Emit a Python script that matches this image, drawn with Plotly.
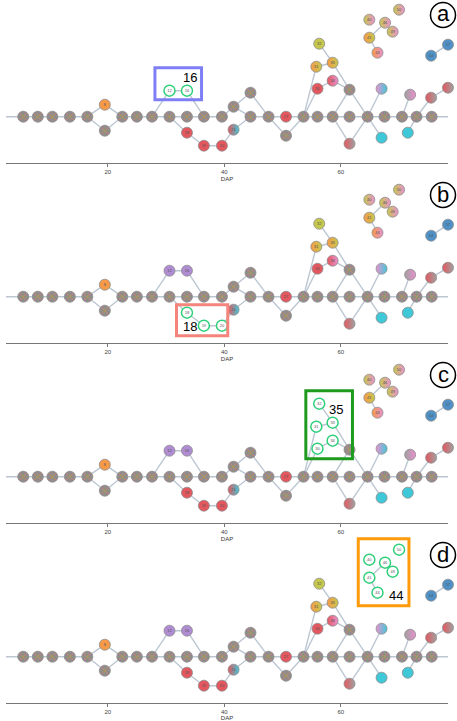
import plotly.graph_objects as go

W, H = 457, 721

# graph layout: position on the DAP axis, vertical offset from the trunk, colour, second colour, label
node_dap = [2.5, 5.5, 8.0, 10.5, 13.5, 16.5, 19.5, 19.5, 22.5, 25.0,
            27.6, 30.6, 30.6, 33.6, 33.6, 33.6, 36.5, 36.5, 39.6, 39.6,
            41.6, 41.6, 44.5, 44.5, 47.6, 50.6, 50.6, 53.6, 56.0, 56.0,
            55.8, 56.3, 58.6, 58.6, 58.6, 61.5, 61.5, 61.5, 64.6, 67.0,
            67.0, 67.5, 70.5, 71.9, 71.5, 73.0, 75.5, 75.6, 78.4, 78.6,
            75.5, 78.4, 64.9, 67.6, 68.9, 70.0, 64.9, 66.3]
node_y = [0, 0, 0, 0, 0, 0, 12, -14, 0, 0,
          0, 26, 0, 26, 0, -16, 0, -29, 0, -29,
          10, -13, 24, 0, 0, 0, -19, 0, 0, 28,
          50, 73, 54, 36, 0, 27, 0, -27, 0, 28,
          -21, 0, 0, 22, -16, 0, 19, 0, 29, 0,
          61, 72, 97, 94, 85, 107, 79, 64]
node_col = ['mix', 'mix', 'mix', 'mix', 'mix', 'mix', 'orange', 'mix', 'mix', 'mix',
            'mix', 'purple', 'mix', 'purple', 'mix', 'red', 'mix', 'red', 'mix', 'red',
            'mix', 'red', 'mix', 'mix', 'mix', 'red', 'mix', 'mix', 'mix', 'red',
            'orange', 'olive', 'orange', 'red', 'mix', 'mix', 'mix', 'red', 'mix', 'pink',
            'cyan', 'mix', 'mix', 'gray', 'cyan', 'mix', 'red', 'mix', 'red', 'mix',
            'blue', 'blue', 'olive', 'olive', 'olive', 'olive', 'orange', 'orange']
node_col2 = ['', '', '', '', '', '', '', '', '', '',
             '', '', '', '', '', '', '', '', '', '',
             '', 'cyan', '', '', '', '', '', '', '', '',
             'olive', '', 'olive', 'pink', '', '', '', 'gray', '', 'cyan',
             '', '', '', 'pink', '', '', 'gray', '', 'gray', '',
             '', '', 'pink', 'pink', 'pink', 'pink', 'olive', 'pink']
node_label = ['', '', '', '', '', '', '8', '', '', '',
              '', '12', '', '16', '', '18', '', '19', '', '20',
              '', '21', '', '', '', '27', '', '', '', '30',
              '31', '32', '33', '34', '', '', '', '', '', '',
              '', '', '', '', '', '', '', '', '', '',
              '54', '57', '40', '46', '49', '50', '41', '44']

edge_src = [0, 1, 2, 3, 4, 5, 5, 6, 7, 8, 9, 10, 10, 11, 12, 12, 13, 14, 15, 16, 17,
            18, 19, 20, 20, 21, 22, 23, 24, 24, 25, 26, 27, 27, 27, 28, 29, 30, 31,
            32, 33, 34, 34, 34, 35, 36, 37, 38, 38, 38, 41, 42, 42, 44, 45, 45, 46,
            47, 50, 56, 56, 53]
edge_dst = [1, 2, 3, 4, 5, 6, 7, 8, 8, 9, 10, 11, 12, 13, 14, 15, 16, 16, 17, 18, 19,
            20, 21, 22, 23, 23, 24, 24, 25, 26, 27, 27, 28, 29, 30, 34, 33, 32, 32,
            35, 35, 35, 36, 37, 38, 38, 38, 41, 39, 40, 42, 43, 45, 45, 46, 47, 48,
            49, 51, 53, 57, 54]

dap_ticks = [20, 40, 60]

# selected clusters in each panel
panels = ['a', 'b', 'c', 'd']
selected = {'a': [11, 13], 'b': [15, 17, 19], 'c': [29, 30, 31, 32, 33],
            'd': [52, 53, 54, 55, 56, 57]}
box_text = {'a': '16', 'b': '18', 'c': '35', 'd': '44'}

palette = {'mix': '#9a8596', 'orange': '#f79a48', 'red': '#e3585f', 'purple': '#b08dd2',
           'olive': '#c6c84e', 'pink': '#e992ce', 'cyan': '#3fc8d8', 'gray': '#a0a0a0',
           'blue': '#4f91c6'}
box_color = {'a': '#7f7ff5', 'b': '#f4847c', 'c': '#1e9a1e', 'd': '#ff9a0a'}
# box padding (left, right, bottom, top)
box_pad = {'a': (2.5, 2.5, 9, 23), 'b': (1.8, 1.0, 10, 8), 'c': (1.8, 3.4, 10, 13),
           'd': (1.9, 1.7, 13, 11)}

XR = [2.54, 78.4]
YR = [-46, 116.7]

fig = go.Figure()
layout = dict(width=W, height=H, margin=dict(l=0, r=0, t=0, b=0),
              plot_bgcolor='white', paper_bgcolor='white', showlegend=False,
              shapes=[], annotations=[])


def pts(ids):
    return [node_dap[k] for k in ids], [node_y[k] for k in ids]


for i, p in enumerate(panels):
    sx = 'x' if i == 0 else 'x%d' % (i + 1)
    sy = 'y' if i == 0 else 'y%d' % (i + 1)
    top = 180 * i
    bottom = top + 162.7
    extra = 0 if i == 0 else 8  # room above so selection boxes are not clipped
    layout['xaxis' if i == 0 else 'xaxis%d' % (i + 1)] = dict(
        domain=[6 / W, 448 / W], range=XR, anchor=sy, tickvals=dap_ticks,
        showline=True, linecolor='#777', linewidth=1, ticks='outside', ticklen=3,
        tickcolor='#777', tickfont=dict(size=6, color='#444', family='Arial'),
        showgrid=False, zeroline=False,
        title=dict(text='DAP', font=dict(size=6, color='#333', family='Arial'), standoff=2))
    layout['yaxis' if i == 0 else 'yaxis%d' % (i + 1)] = dict(
        domain=[1 - bottom / H, 1 - (top - extra) / H], range=[YR[0], YR[1] + extra],
        anchor=sx, visible=False)

    # edges
    ex, ey = [], []
    for s, t in zip(edge_src, edge_dst):
        ex += [node_dap[s], node_dap[t], None]
        ey += [node_y[s], node_y[t], None]
    fig.add_trace(go.Scatter(x=ex, y=ey, mode='lines', xaxis=sx, yaxis=sy,
                             line=dict(color='#bcc6d2', width=1.4), hoverinfo='skip',
                             cliponaxis=False))

    sel = selected[p]
    rest = [k for k in range(len(node_dap)) if k not in sel]
    mix = [k for k in rest if node_col[k] == 'mix']
    solid = [k for k in rest if node_col[k] != 'mix' and not node_col2[k]]
    split = [k for k in rest if node_col2[k]]

    # many-cluster nodes: grey base with coloured spokes to suggest a pie
    x, y = pts(mix)
    fig.add_trace(go.Scatter(x=x, y=y, mode='markers', xaxis=sx, yaxis=sy, cliponaxis=False,
                             marker=dict(size=11, color=palette['mix'],
                                         line=dict(color='#8c8c8c', width=0.8))))
    fig.add_trace(go.Scatter(x=x, y=y, mode='markers', xaxis=sx, yaxis=sy, cliponaxis=False,
                             hoverinfo='skip',
                             marker=dict(size=9, symbol='asterisk-open', color='#7ba56c',
                                         line=dict(width=0.7))))
    fig.add_trace(go.Scatter(x=x, y=y, mode='markers', xaxis=sx, yaxis=sy, cliponaxis=False,
                             hoverinfo='skip',
                             marker=dict(size=7, symbol='x-thin-open', color='#d98a55',
                                         line=dict(width=0.7))))
    x, y = pts(solid)
    fig.add_trace(go.Scatter(x=x, y=y, mode='markers', xaxis=sx, yaxis=sy, cliponaxis=False,
                             marker=dict(size=11, color=[palette[node_col[k]] for k in solid],
                                         line=dict(color='#8c8c8c', width=0.8))))
    x, y = pts(split)
    fig.add_trace(go.Scatter(x=x, y=y, mode='markers', xaxis=sx, yaxis=sy, cliponaxis=False,
                             marker=dict(size=11, color=[palette[node_col[k]] for k in split],
                                         gradient=dict(type='horizontal',
                                                       color=[palette[node_col2[k]] for k in split]),
                                         line=dict(color='#8c8c8c', width=0.8))))
    x, y = pts(sel)
    fig.add_trace(go.Scatter(x=x, y=y, mode='markers', xaxis=sx, yaxis=sy, cliponaxis=False,
                             marker=dict(size=11, color='white',
                                         line=dict(color='#2fcf7a', width=1.5))))
    lab = [k for k in range(len(node_dap)) if node_label[k]]
    x, y = pts(lab)
    fig.add_trace(go.Scatter(x=x, y=y, mode='text', text=[node_label[k] for k in lab],
                             xaxis=sx, yaxis=sy, cliponaxis=False, hoverinfo='skip',
                             textfont=dict(size=4, color='#555', family='Arial')))

    # selection box around the highlighted cluster
    pl, pr, pb, pt = box_pad[p]
    x0 = min(node_dap[k] for k in sel) - pl
    x1 = max(node_dap[k] for k in sel) + pr
    y0 = min(node_y[k] for k in sel) - pb
    y1 = max(node_y[k] for k in sel) + pt
    layout['shapes'].append(dict(type='rect', xref=sx, yref=sy, x0=x0, x1=x1, y0=y0, y1=y1,
                                 line=dict(color=box_color[p], width=3)))
    if p == 'a':
        lx, ly = x1 - 2.0, y1 - 10
    elif p == 'b':
        lx, ly = x0 + 2.3, y0 + 9
    elif p == 'c':
        lx, ly = x1 - 2.9, y1 - 19
    else:
        lx, ly = x1 - 2.3, y0 + 10
    layout['annotations'].append(dict(x=lx, y=ly, xref=sx, yref=sy, text=box_text[p],
                                      showarrow=False, xanchor='center', yanchor='middle',
                                      font=dict(size=13, color='black', family='Arial')))

    # panel letter in a circle
    cx, cy, r = 443, top + 15, 12.5
    layout['shapes'].append(dict(type='circle', xref='paper', yref='paper',
                                 x0=(cx - r) / W, x1=(cx + r) / W,
                                 y0=1 - (cy + r) / H, y1=1 - (cy - r) / H,
                                 line=dict(color='black', width=1.5)))
    layout['annotations'].append(dict(x=cx / W, y=1 - (cy - 1) / H, xref='paper', yref='paper',
                                      text=p, showarrow=False, xanchor='center', yanchor='middle',
                                      font=dict(size=22, color='black', family='Arial')))

fig.update_layout(**layout)
fig.write_html('out.html', config={'displayModeBar': False},
               post_script="document.body.style.margin='0';")
